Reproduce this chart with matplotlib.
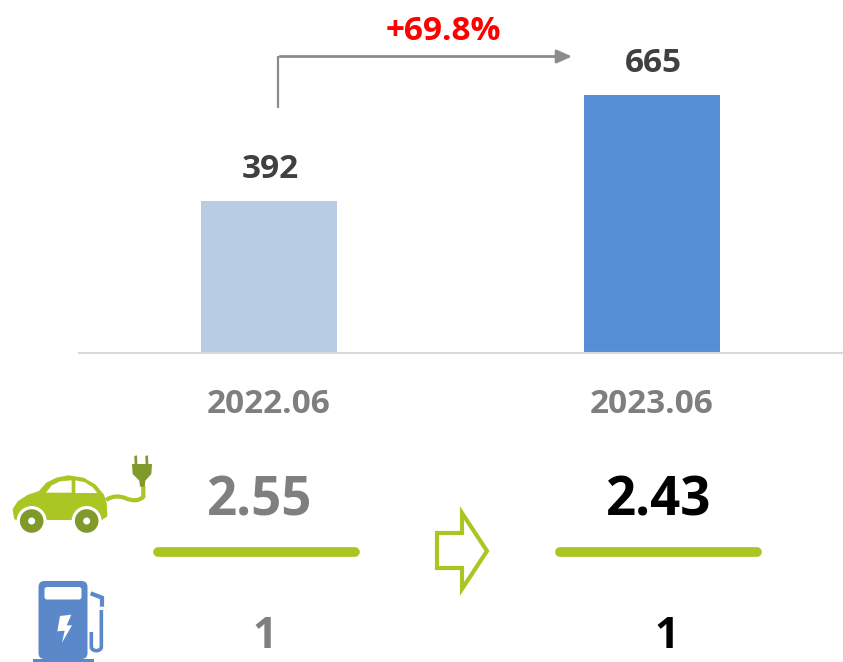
import matplotlib
matplotlib.use("Agg")
import matplotlib.pyplot as plt
from matplotlib.patches import Polygon, Circle, FancyBboxPatch, Rectangle, PathPatch
from matplotlib.path import Path

# values
periods = ["2022.06", "2023.06"]
counts = [392, 665]
bar_colors = ["#B8CCE4", "#558ED5"]
growth_label = "+69.8%"
ratio_labels = ["2.55", "2.43"]
ratio_colors = ["#7F7F7F", "#000000"]
denominators = ["1", "1"]

GREEN = "#A9C623"
DARK_GREEN = "#7F9A2B"
BLUE = "#5B88C9"
GREY = "#7F7F7F"
FONT = "Open Sans"

W, H = 843, 662
fig = plt.figure(figsize=(W / 100, H / 100), dpi=100)

# bar chart, baseline at y=353px, spans x=78..843
ax = fig.add_axes([79 / W, 1 - 353 / H, (W - 79) / W, 353 / H])
ax.bar([i * 383 for i in range(len(counts))], counts, width=136, color=bar_colors)
ax.set_xlim(79 - 269, W - 269)
ax.set_ylim(0, 353 / 0.388)
for s in ["top", "left", "right"]:
    ax.spines[s].set_visible(False)
ax.spines["bottom"].set_color("#D9D9D9")
ax.spines["bottom"].set_linewidth(1.5)
ax.set_yticks([])
ax.set_xticks([i * 383 for i in range(len(periods))])
ax.set_xticklabels(periods, fontsize=24, fontweight="bold", color=GREY, family=FONT)
ax.tick_params(axis="x", length=0, pad=25)
for i, v in enumerate(counts):
    ax.annotate(str(v), (i * 383, v), xytext=(1, 11), textcoords="offset points", ha="center",
                va="bottom", fontsize=24, fontweight="bold", color="#404040", family=FONT)

# overlay in pixel coordinates for the annotation and icons
ov = fig.add_axes([0, 0, 1, 1], zorder=5)
ov.set_xlim(0, W)
ov.set_ylim(H, 0)
ov.axis("off")
ov.patch.set_alpha(0)

# growth arrow
ov.plot([278, 278], [56, 108], color="#8C8C8C", lw=1.6, solid_capstyle="butt")
ov.annotate("", xy=(572, 56.5), xytext=(280, 56.5),
            arrowprops=dict(arrowstyle="-|>,head_length=0.9,head_width=0.4", color="#8C8C8C", lw=2,
                            shrinkA=0, shrinkB=0))
ov.text(443, 31, growth_label, ha="center", va="center", fontsize=24, fontweight="bold",
        color="#FF0000", family=FONT)

# ratio rows
for cx, one_x, bar_x, label, den, col in zip([260, 659], [265, 667], [[158, 355], [560, 757]], ratio_labels,
                                             denominators, ratio_colors):
    ov.text(cx, 501, label, ha="center", va="center", fontsize=38, fontweight="bold", color=col,
            family=FONT)
    ov.plot(bar_x, [552, 552], color=GREEN, lw=7, solid_capstyle="round")
    ov.text(one_x, 636, den, ha="center", va="center", fontsize=31, fontweight="bold", color=col,
            family=FONT)

# outlined block arrow between the rows
ov.add_patch(Polygon([(437, 533), (462, 533), (462, 513), (487, 551), (462, 589), (462, 568), (437, 568)],
                     closed=True, fc="white", ec=GREEN, lw=3, joinstyle="miter"))


def zp(pts):
    # icon outlines were traced on the 3x crop starting at (0, 440)
    return [(x / 3, 440 + y / 3) for x, y in pts]


# car
ov.add_patch(Polygon(zp([(44, 234), (40, 208), (55, 185), (85, 166), (118, 155), (140, 130), (170, 115),
                         (205, 108), (250, 115), (285, 135), (310, 165), (318, 190), (320, 228), (305, 238),
                         (48, 238)]), closed=True, fc=GREEN, ec=GREEN, lw=1))
ov.add_patch(Polygon(zp([(138, 158), (155, 136), (180, 124), (215, 121), (215, 158)]), closed=True, fc="white"))
ov.add_patch(Polygon(zp([(226, 121), (255, 127), (278, 142), (292, 159), (226, 159)]), closed=True, fc="white"))
for wx in [95, 260]:
    cx, cy = zp([(wx, 243)])[0]
    ov.add_patch(Circle((cx, cy), 15, fc="white", ec="none"))
    ov.add_patch(Circle((cx, cy), 11.8, fc=DARK_GREEN, ec="none"))
    ov.add_patch(Circle((cx, cy), 3.5, fc="white", ec="none"))

# cable and plug
cable = Path(zp([(318, 180), (345, 162), (375, 174), (412, 190), (430, 170), (430, 138)]),
             [Path.MOVETO, Path.CURVE3, Path.CURVE3, Path.CURVE3, Path.CURVE3, Path.LINETO])
ov.add_patch(PathPatch(cable, fc="none", ec=GREEN, lw=3))
ov.add_patch(Polygon(zp([(396, 72), (456, 72), (454, 102), (436, 122), (434, 140), (420, 140), (418, 122),
                         (398, 102)]), closed=True, fc=DARK_GREEN, ec="none"))
for px in [408, 441]:
    ov.add_patch(Polygon(zp([(px - 5, 48), (px + 3, 46), (px + 4, 74), (px - 4, 74)]), closed=True,
                         fc=DARK_GREEN, ec="none"))

# charging station
ov.add_patch(FancyBboxPatch((38.5, 581), 49, 78, boxstyle="round,pad=0,rounding_size=6", fc=BLUE, ec="none"))
ov.add_patch(Rectangle((33, 658.5), 61, 4, fc=BLUE, ec="none"))
ov.add_patch(FancyBboxPatch((44.5, 587), 37, 12.5, boxstyle="round,pad=0,rounding_size=2.5", fc="white", ec="none"))
ov.add_patch(Polygon(zp([(180, 528), (214, 524), (200, 556), (216, 556), (186, 608), (194, 572), (172, 574)]),
                     closed=True, fc="white", ec="none"))
hose = Path(zp([(272, 460), (306, 473), (306, 500)]), [Path.MOVETO, Path.LINETO, Path.LINETO])
ov.add_patch(PathPatch(hose, fc="none", ec=BLUE, lw=3))
hose2 = Path(zp([(304, 510), (304, 620), (304, 636), (274, 636), (274, 620), (274, 576)]),
             [Path.MOVETO, Path.LINETO, Path.CURVE4, Path.CURVE4, Path.CURVE4, Path.LINETO])
ov.add_patch(PathPatch(hose2, fc="none", ec=BLUE, lw=2.6))

fig.savefig("out.png", dpi=100, facecolor="white")
